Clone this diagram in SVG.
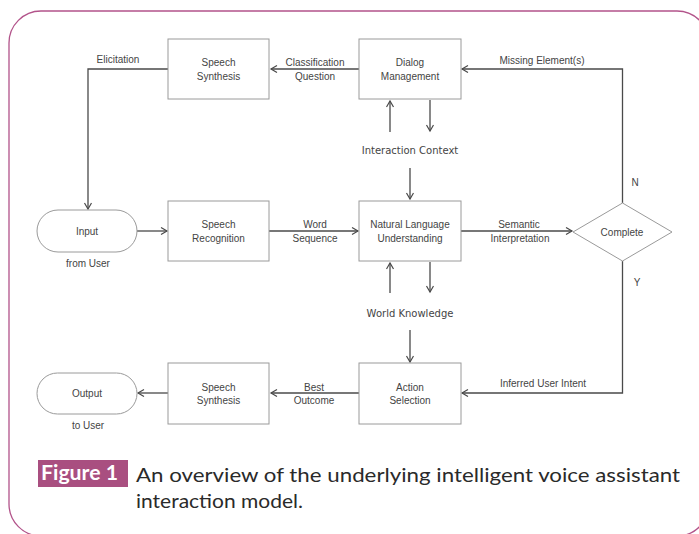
<svg xmlns="http://www.w3.org/2000/svg" width="699" height="534" viewBox="0 0 699 534">
<style>
.box{fill:#fff;stroke:#9a9a9a;stroke-width:1}
.ln{fill:none;stroke:#4a4a4a;stroke-width:1.3;marker-end:url(#ah)}
.t{font-family:"Liberation Sans",Arial,sans-serif;font-size:10px;fill:#444;text-anchor:middle}
.tv{font-family:"DejaVu Sans",Verdana,sans-serif;font-size:10px;fill:#444;text-anchor:middle}
.cap{font-family:Lato,"Open Sans","Liberation Sans",sans-serif;font-size:20px;fill:#2a2a2a}
</style>
<defs>
<marker id="ah" markerUnits="userSpaceOnUse" markerWidth="10" markerHeight="10" refX="7" refY="4" orient="auto">
<path d="M1,0.5 L7,4 L1,7.5" fill="none" stroke="#4a4a4a" stroke-width="1.2"/>
</marker>
</defs>
<rect x="9" y="11" width="700" height="525" rx="32" ry="32" fill="#fff" stroke="#b2538a" stroke-width="1.3"/>

<g id="connectors">
<path class="ln" d="M168,69 H88 V209"/>
<path class="ln" d="M359,69 H271"/>
<path class="ln" d="M622.5,203 V69 H462"/>
<path class="ln" d="M390,132 V101"/>
<path class="ln" d="M430,100 V131"/>
<path class="ln" d="M410,168 V199"/>
<path class="ln" d="M137,231 H167"/>
<path class="ln" d="M269,231 H358"/>
<path class="ln" d="M461,231 H572"/>
<path class="ln" d="M390,293 V263"/>
<path class="ln" d="M430,262 V292"/>
<path class="ln" d="M410,330 V362"/>
<path class="ln" d="M622.5,261 V393 H462"/>
<path class="ln" d="M359,393 H271"/>
<path class="ln" d="M168,393 H138"/>
<text class="t" x="118" y="63">Elicitation</text>
<text class="t" x="315" y="66">Classification</text>
<text class="t" x="315" y="80">Question</text>
<text class="t" x="542" y="64">Missing Element(s)</text>
<text class="tv" x="410" y="154">Interaction Context</text>
<text class="t" x="315" y="228">Word</text>
<text class="t" x="315" y="242">Sequence</text>
<text class="t" x="519" y="228">Semantic</text>
<text class="t" x="520" y="242">Interpretation</text>
<text class="t" x="635" y="186">N</text>
<text class="t" x="637" y="286">Y</text>
<text class="tv" x="410" y="317">World Knowledge</text>
<text class="t" x="543" y="387">Inferred User Intent</text>
<text class="t" x="314" y="391">Best</text>
<text class="t" x="314" y="404">Outcome</text>
</g>

<g id="speech-synthesis-top">
<rect class="box" x="168" y="39" width="101" height="60"/>
<text class="t" x="218.5" y="66">Speech</text>
<text class="t" x="218.5" y="80">Synthesis</text>
</g>
<g id="dialog-management">
<rect class="box" x="359" y="39" width="102" height="60"/>
<text class="t" x="410" y="66">Dialog</text>
<text class="t" x="410" y="80">Management</text>
</g>
<g id="input">
<rect class="box" x="37" y="210" width="100" height="42" rx="21" ry="21"/>
<text class="t" x="87" y="235">Input</text>
<text class="t" x="88" y="267">from User</text>
</g>
<g id="speech-recognition">
<rect class="box" x="168" y="201" width="101" height="60"/>
<text class="t" x="218.5" y="228">Speech</text>
<text class="t" x="218.5" y="242">Recognition</text>
</g>
<g id="nlu">
<rect class="box" x="359" y="201" width="102" height="60"/>
<text class="t" x="410" y="228">Natural Language</text>
<text class="t" x="410" y="242">Understanding</text>
</g>
<g id="complete">
<polygon class="box" points="573,232 622.5,203 672,232 622.5,261"/>
<text class="t" x="622" y="236">Complete</text>
</g>
<g id="action-selection">
<rect class="box" x="359" y="363" width="102" height="61"/>
<text class="t" x="410" y="391">Action</text>
<text class="t" x="410" y="404">Selection</text>
</g>
<g id="speech-synthesis-bottom">
<rect class="box" x="168" y="363" width="101" height="61"/>
<text class="t" x="218.5" y="391">Speech</text>
<text class="t" x="218.5" y="404">Synthesis</text>
</g>
<g id="output">
<rect class="box" x="37" y="373" width="100" height="41" rx="20.5" ry="20.5"/>
<text class="t" x="87" y="397">Output</text>
<text class="t" x="88" y="429">to User</text>
</g>

<g id="caption">
<rect x="38" y="460" width="90" height="27" fill="#a94f80"/>
<text x="41" y="480" font-family="Lato,'Open Sans','Liberation Sans',sans-serif" font-size="20" font-weight="bold" fill="#fff" textLength="77" lengthAdjust="spacingAndGlyphs">Figure 1</text>
<text class="cap" x="136" y="482" textLength="544" lengthAdjust="spacingAndGlyphs">An overview of the underlying intelligent voice assistant</text>
<text class="cap" x="136" y="508" textLength="167" lengthAdjust="spacingAndGlyphs">interaction model.</text>
</g>
</svg>
